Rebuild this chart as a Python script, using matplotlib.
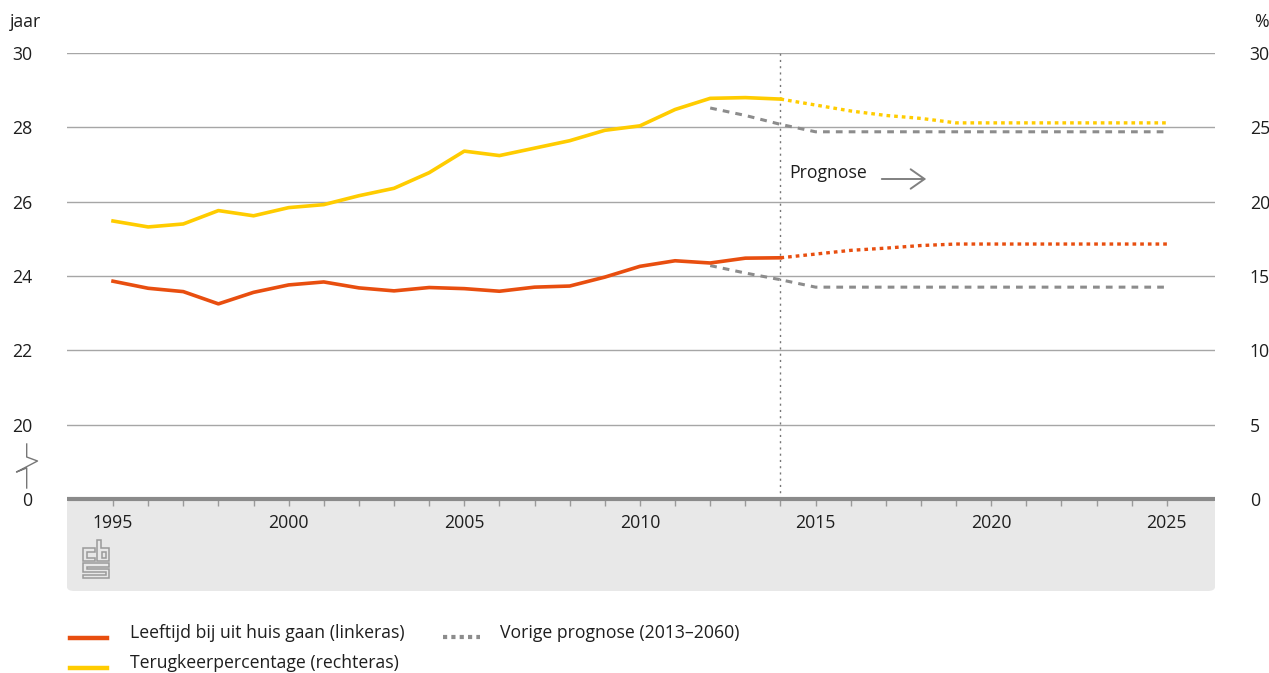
import matplotlib
matplotlib.use("Agg")
import matplotlib.pyplot as plt
from matplotlib.patches import FancyBboxPatch, FancyArrowPatch, Polygon
from matplotlib.lines import Line2D

plt.rcParams['font.family'] = ['Open Sans', 'DejaVu Sans']

# ---------------- data ----------------
years = list(range(1995, 2015))
leeftijd = [23.86, 23.67, 23.58, 23.25, 23.56, 23.76, 23.84, 23.68, 23.60, 23.69,
            23.66, 23.59, 23.70, 23.73, 23.97, 24.26, 24.41, 24.35, 24.48, 24.49]
terugkeer = [18.7, 18.3, 18.5, 19.4, 19.05, 19.6, 19.8, 20.4, 20.9, 21.95,
             23.4, 23.1, 23.6, 24.1, 24.8, 25.1, 26.2, 26.95, 27.0, 26.9]

prog_years = list(range(2014, 2026))
leeftijd_prog = [24.49, 24.59, 24.69, 24.75, 24.82, 24.86, 24.86, 24.86, 24.86, 24.86, 24.86, 24.86]
terugkeer_prog = [26.9, 26.5, 26.1, 25.8, 25.6, 25.3, 25.3, 25.3, 25.3, 25.3, 25.3, 25.3]

vorige_years = list(range(2012, 2026))
vorige_leeftijd = [24.28, 24.08, 23.90, 23.70, 23.70, 23.70, 23.70, 23.70, 23.70, 23.70, 23.70, 23.70, 23.70, 23.70]
vorige_terugkeer = [26.3, 25.8, 25.2, 24.7, 24.7, 24.7, 24.7, 24.7, 24.7, 24.7, 24.7, 24.7, 24.7, 24.7]

left_ticks = [18, 20, 22, 24, 26, 28, 30]
left_labels = ['0', '20', '22', '24', '26', '28', '30']
right_ticks = [0, 5, 10, 15, 20, 25, 30]
xtick_years = [1995, 2000, 2005, 2010, 2015, 2020, 2025]

legend_labels = ['Leeftijd bij uit huis gaan (linkeras)', 'Terugkeerpercentage (rechteras)',
                 'Vorige prognose (2013\u20132060)']

# ---------------- style ----------------
ORANGE = '#E84E0F'
YELLOW = '#FFCC00'
GREY = '#8C8C8C'
TXT = '#1e1e1e'
GRID = '#a6a6a6'
FS = 12.7

W, H = 1269, 673
fig = plt.figure(figsize=(W / 100, H / 100), dpi=100)

def fx(px):
    return px / W

def fy(py):
    return 1 - py / H

# grey band under the axis
band = FancyBboxPatch((fx(67), fy(591)), fx(1215) - fx(67), fy(499) - fy(591),
                      boxstyle="round,pad=0,rounding_size=0.006",
                      transform=fig.transFigure, facecolor='#e8e8e8', edgecolor='none', zorder=-5)
fig.patches.append(band)

ax = fig.add_axes([fx(67), fy(499), fx(1215) - fx(67), fy(53) - fy(499)])
ax.patch.set_alpha(0)
ax2 = ax.twinx()

ax.set_xlim(1993.69, 2026.37)
ax.set_ylim(18, 30)
ax2.set_ylim(0, 30)

for a in (ax, ax2):
    for s in ('top', 'right', 'left'):
        a.spines[s].set_visible(False)
ax2.spines['bottom'].set_visible(False)
ax.spines['bottom'].set_color('#8a8a8a')
ax.spines['bottom'].set_linewidth(3)
ax.spines['bottom'].set_zorder(5)
ax.spines['bottom'].set_capstyle('butt')

# grid lines
for v in [20, 22, 24, 26, 28, 30]:
    ax.axhline(v, color=GRID, lw=1.0, zorder=1)

ax.set_yticks(left_ticks)
ax.set_yticklabels(left_labels)
ax.tick_params(axis='y', length=0, pad=25, labelsize=FS, labelcolor=TXT)

ax2.set_yticks(right_ticks)
ax2.set_yticklabels([str(v) for v in right_ticks])
ax2.tick_params(axis='y', length=0, pad=25, labelsize=FS, labelcolor=TXT)

ax.set_xticks(list(range(1995, 2026)), minor=True)
ax.set_xticks(xtick_years)
ax.set_xticklabels([str(y) for y in xtick_years])
ax.tick_params(axis='x', which='both', length=5, width=1, color='#9a9a9a', direction='out')
ax.tick_params(axis='x', which='major', pad=6, labelsize=FS, labelcolor=TXT)

# prognosis separator
ax.axvline(2014, color='#777777', lw=1.0, ls=(0, (1.5, 3)), zorder=2)

# previous forecast
ax.plot(vorige_years, vorige_leeftijd, color=GREY, lw=2.2, ls=(0, (2.2, 2.0)), zorder=3)
ax2.plot(vorige_years, vorige_terugkeer, color=GREY, lw=2.2, ls=(0, (2.2, 2.0)), zorder=3)

# realised
ax.plot(years, leeftijd, color=ORANGE, lw=2.6, zorder=4, solid_joinstyle='round')
ax2.plot(years, terugkeer, color=YELLOW, lw=2.6, zorder=4, solid_joinstyle='round')
# forecast
ax.plot(prog_years, leeftijd_prog, color=ORANGE, lw=2.4, ls=(0, (1.1, 1.2)), zorder=4)
ax2.plot(prog_years, terugkeer_prog, color=YELLOW, lw=2.4, ls=(0, (1.1, 1.2)), zorder=4)

# Prognose label and arrow
fig.text(fx(789), fy(173), 'Prognose', fontsize=FS, color=TXT, va='center', ha='left')
arr = FancyArrowPatch((fx(879), fy(179)), (fx(929), fy(179)), transform=fig.transFigure,
                      arrowstyle='->,head_length=10,head_width=7', color='#808080', lw=1.4,
                      mutation_scale=1)
fig.patches.append(arr)

# axis units
fig.text(fx(10), fy(22), 'jaar', fontsize=FS, color=TXT, va='center', ha='left')
fig.text(fx(1254), fy(22), '%', fontsize=FS, color=TXT, va='center', ha='left')

# axis break symbol
bx = [26.7, 26.7, 37.5, 16.5, 26.7, 26.7]
by = [444, 457, 461, 472, 468, 488]
fig.add_artist(Line2D([fx(x) for x in bx], [fy(y) for y in by], transform=fig.transFigure,
                      color='#777777', lw=1.0))

# cbs logo (approximation)
def outline(pts):
    fig.patches.append(Polygon([(fx(x), fy(y)) for x, y in pts], closed=True,
                               transform=fig.transFigure, facecolor='none',
                               edgecolor='#9a9a9a', lw=1.1, zorder=2))

outline([(95, 548), (83, 548), (83, 561), (95, 561), (95, 557.5), (86.5, 557.5), (86.5, 551.5), (95, 551.5)])
outline([(97, 540), (97, 561), (109, 561), (109, 548), (100.5, 548), (100.5, 540)])
outline([(101.5, 551.5), (105.5, 551.5), (105.5, 557.5), (101.5, 557.5)])
outline([(83, 563), (109, 563), (109, 566.5), (86.5, 566.5), (86.5, 568.5), (109, 568.5),
         (109, 578), (83, 578), (83, 574.5), (105.5, 574.5), (105.5, 572), (83, 572)])

# legend
def leg_line(x0, x1, y, **kw):
    fig.add_artist(Line2D([fx(x0), fx(x1)], [fy(y), fy(y)], transform=fig.transFigure, **kw))

leg_line(70, 107, 638, color=ORANGE, lw=3.2)
fig.text(fx(130), fy(633), legend_labels[0], fontsize=FS, color=TXT, va='center', ha='left')
leg_line(70, 107, 668, color=YELLOW, lw=3.2)
fig.text(fx(130), fy(663), legend_labels[1], fontsize=FS, color=TXT, va='center', ha='left')
leg_line(443, 480, 637, color=GREY, lw=3.0, ls=(0, (1.0, 1.0)))
fig.text(fx(500), fy(633), legend_labels[2], fontsize=FS, color=TXT, va='center', ha='left')

fig.savefig('out.png', dpi=100)
